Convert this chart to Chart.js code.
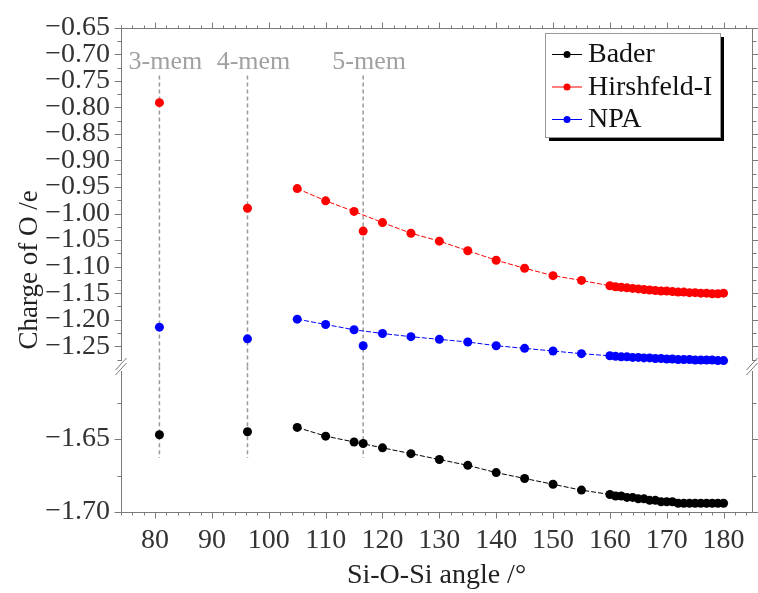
<!DOCTYPE html>
<html><head><meta charset="utf-8">
<script src="https://cdn.jsdelivr.net/npm/chart.js@4.4.0/dist/chart.umd.min.js"></script>
<style>html,body{margin:0;padding:0;background:#fff;}</style>
</head><body>
<canvas id="c" width="758" height="593"></canvas>
<script>
// ---- data ----
const chainAngles = [105,110,115,120,125,130,135,140,145,150,155,
  160,161,162,163,164,165,166,167,168,169,170,171,172,173,174,175,176,177,178,179,180];
const baderChain = [-1.642,-1.648,-1.652,-1.656,-1.660,-1.664,-1.668,-1.673,-1.677,-1.681,-1.685,
  -1.688,-1.689,-1.689,-1.690,-1.690,-1.691,-1.691,-1.692,-1.692,-1.693,-1.693,-1.693,-1.694,-1.694,-1.694,-1.694,-1.694,-1.694,-1.694,-1.694,-1.694];
const hirshChain = [-0.953,-0.976,-0.996,-1.017,-1.037,-1.052,-1.070,-1.088,-1.103,-1.117,-1.126,
  -1.136,-1.138,-1.139,-1.140,-1.141,-1.142,-1.143,-1.144,-1.145,-1.146,-1.146,-1.147,-1.148,-1.148,-1.149,-1.149,-1.150,-1.150,-1.151,-1.151,-1.150];
const npaChain = [-1.199,-1.209,-1.219,-1.226,-1.232,-1.237,-1.242,-1.249,-1.254,-1.259,-1.264,
  -1.268,-1.269,-1.270,-1.270,-1.271,-1.271,-1.272,-1.272,-1.273,-1.273,-1.274,-1.274,-1.275,-1.275,-1.275,-1.276,-1.276,-1.276,-1.276,-1.277,-1.277];
const ringAngles = [80.76, 96.25, 116.6];
const ringNames = ['3-mem', '4-mem', '5-mem'];
const baderRing = [-1.647, -1.645, -1.653];
const hirshRing = [-0.791, -0.990, -1.033];
const npaRing = [-1.214, -1.236, -1.249];
const seriesNames = ['Bader', 'Hirshfeld-I', 'NPA'];
const seriesColors = ['#000000', '#ff0000', '#0000ff'];
const xTickValues = [80,90,100,110,120,130,140,150,160,170,180];
const yUpTickValues = [-0.65,-0.70,-0.75,-0.80,-0.85,-0.90,-0.95,-1.00,-1.05,-1.10,-1.15,-1.20,-1.25];
const yLowTickValues = [-1.65,-1.70];
const xRange = [74, 185];
const yUpRange = [-1.2875, -0.65];
const yLowRange = [-1.70, -1.60];
const ringLineRange = [-0.74, -1.663];

const pts = (xs, ys) => xs.map((x, i) => ({x, y: ys[i]}));
const FONT = '"Liberation Serif", "Times New Roman", serif';
const AXIS = '#7a7a7a';
const TXT = '#333333';

const datasets = [];
const seriesDefs = [
  {chain: baderChain, ring: baderRing, axis: 'yLow'},
  {chain: hirshChain, ring: hirshRing, axis: 'yUp'},
  {chain: npaChain, ring: npaRing, axis: 'yUp'}
];
seriesDefs.forEach((s, i) => {
  datasets.push({label: seriesNames[i], data: pts(chainAngles, s.chain), yAxisID: s.axis,
    showLine: true, borderColor: seriesColors[i], borderWidth: 1, borderDash: [5, 2],
    pointRadius: 4.5, pointBackgroundColor: seriesColors[i], pointBorderWidth: 0, order: 1});
  datasets.push({label: seriesNames[i] + ' ring', data: pts(ringAngles, s.ring), yAxisID: s.axis,
    showLine: false, pointRadius: 4.5, pointBackgroundColor: seriesColors[i], pointBorderWidth: 0, order: 1});
});
ringAngles.forEach((a) => {
  datasets.push({label: 'ring line', data: [{x: a, y: ringLineRange[0]}, {x: a, y: yUpRange[0]}], yAxisID: 'yUp',
    showLine: true, borderColor: '#9a9a9a', borderWidth: 1.5, borderDash: [4, 3], pointRadius: 0, order: 10});
  datasets.push({label: 'ring line', data: [{x: a, y: yLowRange[1]}, {x: a, y: ringLineRange[1]}], yAxisID: 'yLow',
    showLine: true, borderColor: '#9a9a9a', borderWidth: 1.5, borderDash: [4, 3], pointRadius: 0, order: 10});
});

const fmtY = v => v.toFixed(2).replace('-', '\u2212');

const decor = {
  id: 'decor',
  afterDraw(chart) {
    const {ctx, chartArea: ca, scales} = chart;
    const xs = scales.x, yu = scales.yUp, yl = scales.yLow;
    const brk = Math.round(yu.bottom);
    const L = Math.round(ca.left) + 0.5, R = Math.round(ca.right) + 0.5;
    const T = Math.round(ca.top) + 0.5, B = Math.round(ca.bottom) + 0.5;
    ctx.save();
    ctx.strokeStyle = AXIS; ctx.lineWidth = 1;
    ctx.beginPath();
    ctx.moveTo(L, T); ctx.lineTo(R, T);
    ctx.moveTo(L, B); ctx.lineTo(R, B);
    ctx.moveTo(L, T); ctx.lineTo(L, brk - 5);
    ctx.moveTo(L, brk + 5); ctx.lineTo(L, B);
    ctx.moveTo(R, T); ctx.lineTo(R, brk - 5);
    ctx.moveTo(R, brk + 5); ctx.lineTo(R, B);
    // x ticks (bottom + top)
    for (let v = xRange[0]; v <= xRange[1]; v += 2) {
      const px = Math.round(xs.getPixelForValue(v)) + 0.5;
      const len = v % 10 === 0 ? 6 : 3;
      ctx.moveTo(px, B); ctx.lineTo(px, B + len);
      ctx.moveTo(px, T); ctx.lineTo(px, T - len);
    }
    // y ticks
    const yTicks = (scale, kFrom, kTo) => {
      for (let k = kFrom; k <= kTo; k++) {
        const py = Math.round(scale.getPixelForValue(-k * 0.025)) + 0.5;
        const len = k % 2 === 0 ? 7 : 4;
        ctx.moveTo(L, py); ctx.lineTo(L - len, py);
        ctx.moveTo(R, py); ctx.lineTo(R + len, py);
      }
    };
    yTicks(yu, 26, 51);
    yTicks(yl, 65, 68);
    ctx.stroke();
    // break marks
    ctx.beginPath();
    [L, R].forEach(x => {
      ctx.moveTo(x - 6, brk + 4); ctx.lineTo(x + 5, brk - 8);
      ctx.moveTo(x - 6, brk + 9); ctx.lineTo(x + 5, brk - 3);
    });
    ctx.stroke();
    // ring labels
    ctx.fillStyle = '#a0a0a0';
    ctx.font = '26px ' + FONT;
    ctx.textAlign = 'center'; ctx.textBaseline = 'middle';
    ringAngles.forEach((a, i) => {
      ctx.fillText(ringNames[i], xs.getPixelForValue(a) + 6, ca.top + 34);
    });
    // y axis title
    ctx.save();
    ctx.translate(30, (ca.top + ca.bottom) / 2);
    ctx.rotate(-Math.PI / 2);
    ctx.fillStyle = '#222';
    ctx.font = '27px ' + FONT;
    ctx.fillText('Charge of O /e', 0, 0);
    ctx.restore();
    // legend
    const lx = 545, ly = 33, lw = 175, lh = 104;
    ctx.fillStyle = '#000';
    ctx.fillRect(lx + 4, ly + 4, lw, lh);
    ctx.fillStyle = '#fff';
    ctx.fillRect(lx, ly, lw, lh);
    ctx.strokeStyle = '#999'; ctx.lineWidth = 1;
    ctx.strokeRect(lx + 0.5, ly + 0.5, lw, lh);
    ctx.font = '28px ' + FONT;
    ctx.textAlign = 'left';
    seriesNames.forEach((n, i) => {
      const cy = ly + 21 + i * 32.5;
      ctx.strokeStyle = seriesColors[i]; ctx.lineWidth = 1;
      ctx.beginPath(); ctx.moveTo(552, cy + 0.5); ctx.lineTo(582, cy + 0.5); ctx.stroke();
      ctx.fillStyle = seriesColors[i];
      ctx.beginPath(); ctx.arc(567, cy + 0.5, 3.5, 0, Math.PI * 2); ctx.fill();
      ctx.fillStyle = '#111';
      ctx.fillText(n, 588, cy + 1);
    });
    ctx.restore();
  }
};

new Chart(document.getElementById('c'), {
  type: 'scatter',
  data: {datasets},
  options: {
    responsive: false, animation: false, devicePixelRatio: 1,
    layout: {padding: {top: 24, right: 6, left: 0, bottom: 0}},
    plugins: {legend: {display: false}, tooltip: {enabled: false}},
    scales: {
      x: {
        type: 'linear', min: xRange[0], max: xRange[1],
        grid: {display: false, drawTicks: false}, border: {display: false},
        afterBuildTicks: s => { s.ticks = xTickValues.map(v => ({value: v})); },
        afterFit: s => { s.height = 81; },
        ticks: {autoSkip: false, maxRotation: 0, padding: 12, color: TXT, font: {family: FONT, size: 28},
          callback: v => String(v)},
        title: {display: true, text: 'Si-O-Si angle /°', color: '#222', font: {family: FONT, size: 28}, padding: {top: 0, bottom: 1}}
      },
      yLow: {
        type: 'linear', position: 'left', stack: 'ys', stackWeight: 147,
        min: yLowRange[0], max: yLowRange[1],
        grid: {display: false, drawTicks: false}, border: {display: false},
        afterBuildTicks: s => { s.ticks = yLowTickValues.map(v => ({value: v})); },
        afterFit: s => { s.width = 121; },
        ticks: {autoSkip: false, padding: 11, color: TXT, font: {family: FONT, size: 28}, callback: v => fmtY(v)}
      },
      yUp: {
        type: 'linear', position: 'left', stack: 'ys', stackWeight: 341,
        min: yUpRange[0], max: yUpRange[1],
        grid: {display: false, drawTicks: false}, border: {display: false},
        afterBuildTicks: s => { s.ticks = yUpTickValues.map(v => ({value: v})); },
        afterFit: s => { s.width = 121; },
        ticks: {autoSkip: false, padding: 11, color: TXT, font: {family: FONT, size: 28}, callback: v => fmtY(v)}
      }
    }
  },
  plugins: [decor]
});
</script>
</body></html>
